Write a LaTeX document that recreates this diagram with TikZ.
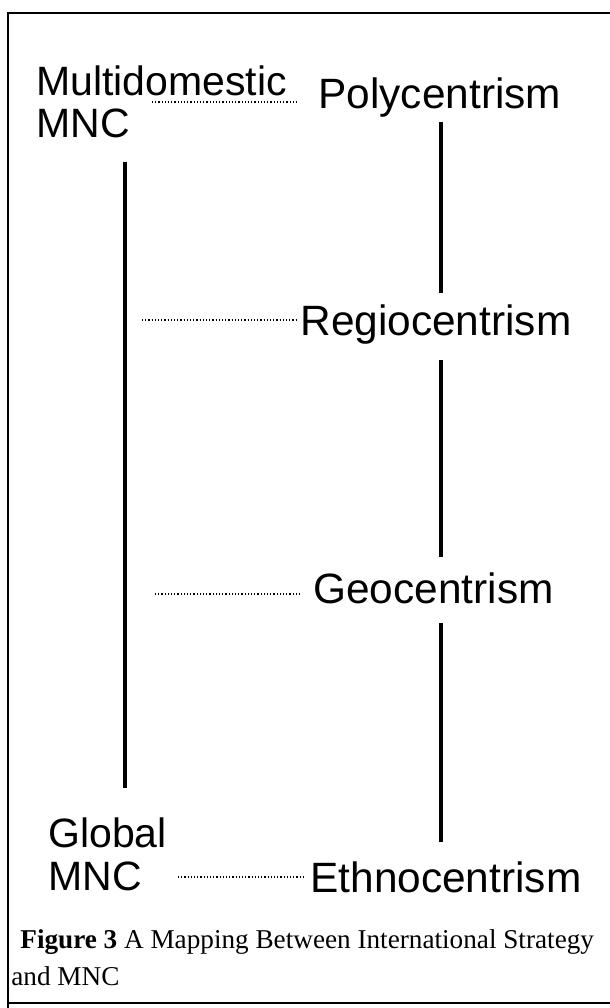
\documentclass[tikz,border=0pt]{standalone}
\usepackage{fontspec}
\setmainfont{Liberation Serif}
\setsansfont{Liberation Sans}

\begin{document}
\begin{tikzpicture}[x=0.5pt, y=-0.5pt,
		orient/.style={anchor=base west, inner sep=0pt, font=\sffamily\fontsize{21.2}{24}\selectfont},
		mnc/.style={anchor=base west, inner sep=0pt, font=\sffamily\fontsize{20.5}{24}\selectfont},
		caption/.style={anchor=base west, inner sep=0pt, font=\fontsize{13.6}{16}\selectfont},
		link/.style={densely dotted, line width=0.6pt},
		bar/.style={line width=2.3pt}]
		\useasboundingbox (0,0) rectangle (610,1008);
		% frame
		\draw[line width=1pt] (610,13) -- (8,13) -- (8,1008);
		\draw[line width=1pt] (8,1003) -- (610,1003);

		% strategies
		\node[mnc] (mdom) at (36,95) {Multidomestic};
		\node[mnc] (mdommnc) at (36,137) {MNC};
		\node[mnc] (glob) at (48,847) {Global};
		\node[mnc] (globmnc) at (48,890) {MNC};

		% orientations
		\node[orient] (poly) at (318,108) {Polycentrism};
		\node[orient] (regio) at (300,335) {Regiocentrism};
		\node[orient] (geo) at (313,603) {Geocentrism};
		\node[orient] (ethno) at (310,892) {Ethnocentrism};

		% dotted links
		\foreach \lab/\x/\y/\gap in {poly/152/102/10.5pt, regio/142/320/1.5pt, geo/155/594/5.5pt, ethno/178/877/2.5pt} {
			\coordinate (s\lab) at (\x,\y);
			\draw[link, shorten >=\gap] (s\lab) -- (s\lab -| \lab.west);
		}

		% bars
		\draw[bar] (125,162) -- (125,788);
		\foreach \a/\b in {122/293, 360/557, 623/842}
			\draw[bar, line width=2pt] (441,\a) -- (441,\b);

		\node[caption] (cap) at (20,948) {\textbf{Figure 3} A Mapping Between International Strategy};
		\node[caption] (cap2) at (11,985) {and MNC};
	\end{tikzpicture}
\end{document}
